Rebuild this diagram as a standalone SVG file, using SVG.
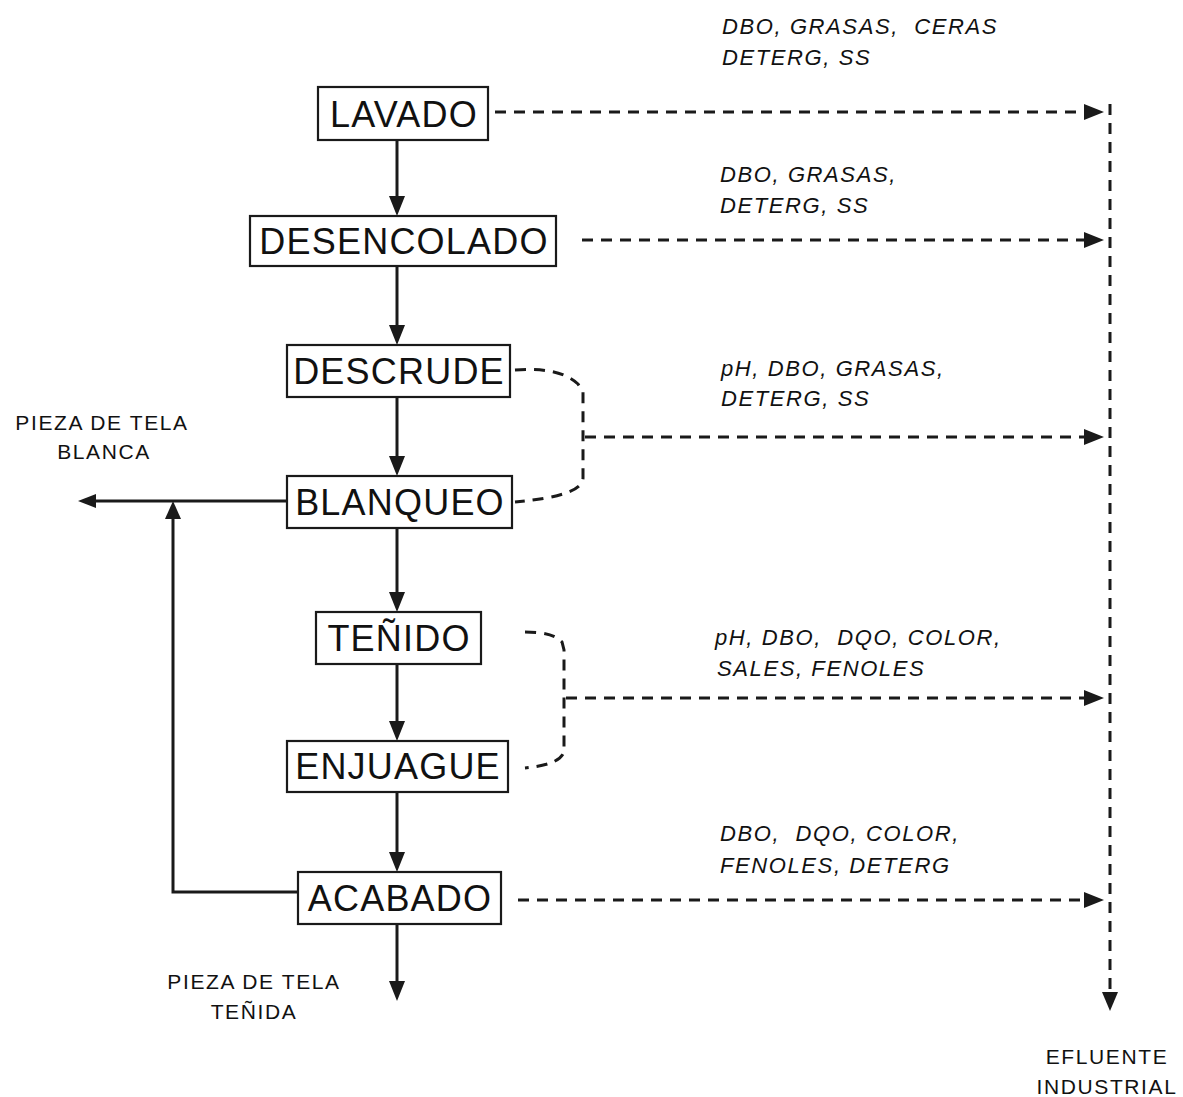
<svg xmlns="http://www.w3.org/2000/svg" width="1183" height="1097" viewBox="0 0 1183 1097">
<style>
.box{fill:#fff;stroke:#1a1a1a;stroke-width:2.2}
.bt{font-family:"Liberation Sans",Arial,sans-serif;font-size:36px;fill:#111;text-anchor:middle;letter-spacing:1.2px}
.it{font-family:"Liberation Sans",Arial,sans-serif;font-size:22px;font-style:italic;fill:#111;letter-spacing:1.6px;white-space:pre}
.lb{font-family:"Liberation Sans",Arial,sans-serif;font-size:21px;fill:#111;text-anchor:middle;letter-spacing:1.6px}
.sol{fill:none;stroke:#1a1a1a;stroke-width:3}
.dash{fill:none;stroke:#1a1a1a;stroke-width:3;stroke-dasharray:11 8}
.head{fill:#1a1a1a}
</style>
<rect width="1183" height="1097" fill="#fff"/>
<g id="connectors">
  <line class="sol" x1="397" y1="140" x2="397" y2="200"/>
  <polygon class="head" points="389,196 405,196 397,216"/>
  <line class="sol" x1="397" y1="266" x2="397" y2="330"/>
  <polygon class="head" points="389,325 405,325 397,345"/>
  <line class="sol" x1="397" y1="397" x2="397" y2="460"/>
  <polygon class="head" points="389,456 405,456 397,476"/>
  <line class="sol" x1="397" y1="528" x2="397" y2="596"/>
  <polygon class="head" points="389,592 405,592 397,612"/>
  <line class="sol" x1="397" y1="664" x2="397" y2="725"/>
  <polygon class="head" points="389,721 405,721 397,741"/>
  <line class="sol" x1="397" y1="792" x2="397" y2="856"/>
  <polygon class="head" points="389,852 405,852 397,872"/>
  <line class="sol" x1="397" y1="924" x2="397" y2="985"/>
  <polygon class="head" points="389,981 405,981 397,1001"/>
  <line class="sol" x1="287" y1="501" x2="92" y2="501"/>
  <polygon class="head" points="78,501 96,494 96,508"/>
  <polyline class="sol" points="298,892 173,892 173,518"/>
  <polygon class="head" points="173,501 165,519 181,519"/>
  <line class="dash" x1="495" y1="112" x2="1088" y2="112"/>
  <polygon class="head" points="1104,112 1084,104 1084,120"/>
  <line class="dash" x1="582" y1="240" x2="1088" y2="240"/>
  <polygon class="head" points="1104,240 1084,232 1084,248"/>
  <path class="dash" d="M515,370 C545,368 565,372 578,384 L583,392 L583,478 C583,490 560,498 515,502"/>
  <line class="dash" x1="585" y1="437" x2="1088" y2="437"/>
  <polygon class="head" points="1104,437 1084,429 1084,445"/>
  <path class="dash" d="M525,632 C545,632 555,635 562,642 L564,650 L564,752 C560,762 545,766 525,768"/>
  <line class="dash" x1="566" y1="698" x2="1088" y2="698"/>
  <polygon class="head" points="1104,698 1084,690 1084,706"/>
  <line class="dash" x1="518" y1="900" x2="1088" y2="900"/>
  <polygon class="head" points="1104,900 1084,892 1084,908"/>
  <line class="dash" x1="1110" y1="104" x2="1110" y2="992"/>
  <polygon class="head" points="1102,992 1118,992 1110,1011"/>
</g>
<g id="lavado"><rect class="box" x="318" y="87" width="170" height="53"/><text class="bt" x="404" y="127">LAVADO</text></g>
<g id="desencolado"><rect class="box" x="250" y="216" width="306" height="50"/><text class="bt" x="404" y="254">DESENCOLADO</text></g>
<g id="descrude"><rect class="box" x="287" y="345" width="223" height="52"/><text class="bt" x="399" y="384">DESCRUDE</text></g>
<g id="blanqueo"><rect class="box" x="287" y="476" width="225" height="52"/><text class="bt" x="400" y="515">BLANQUEO</text></g>
<g id="tenido"><rect class="box" x="316" y="612" width="165" height="52"/><text class="bt" x="399" y="651">TEÑIDO</text></g>
<g id="enjuague"><rect class="box" x="287" y="741" width="221" height="51"/><text class="bt" x="398" y="779">ENJUAGUE</text></g>
<g id="acabado"><rect class="box" x="298" y="872" width="203" height="52"/><text class="bt" x="400" y="911">ACABADO</text></g>
<g id="labels">
  <text class="it" x="722" y="34" xml:space="preserve">DBO, GRASAS,  CERAS</text>
  <text class="it" x="722" y="65">DETERG, SS</text>
  <text class="it" x="720" y="182">DBO, GRASAS,</text>
  <text class="it" x="720" y="213">DETERG, SS</text>
  <text class="it" x="721" y="376">pH, DBO, GRASAS,</text>
  <text class="it" x="721" y="406">DETERG, SS</text>
  <text class="it" x="715" y="645" xml:space="preserve">pH, DBO,  DQO, COLOR,</text>
  <text class="it" x="717" y="676">SALES, FENOLES</text>
  <text class="it" x="720" y="841" xml:space="preserve">DBO,  DQO, COLOR,</text>
  <text class="it" x="720" y="873">FENOLES, DETERG</text>
  <text class="lb" x="102" y="430">PIEZA DE TELA</text>
  <text class="lb" x="104" y="459">BLANCA</text>
  <text class="lb" x="254" y="989">PIEZA DE TELA</text>
  <text class="lb" x="254" y="1019">TEÑIDA</text>
  <text class="lb" x="1107" y="1064">EFLUENTE</text>
  <text class="lb" x="1107" y="1094">INDUSTRIAL</text>
</g>
</svg>
